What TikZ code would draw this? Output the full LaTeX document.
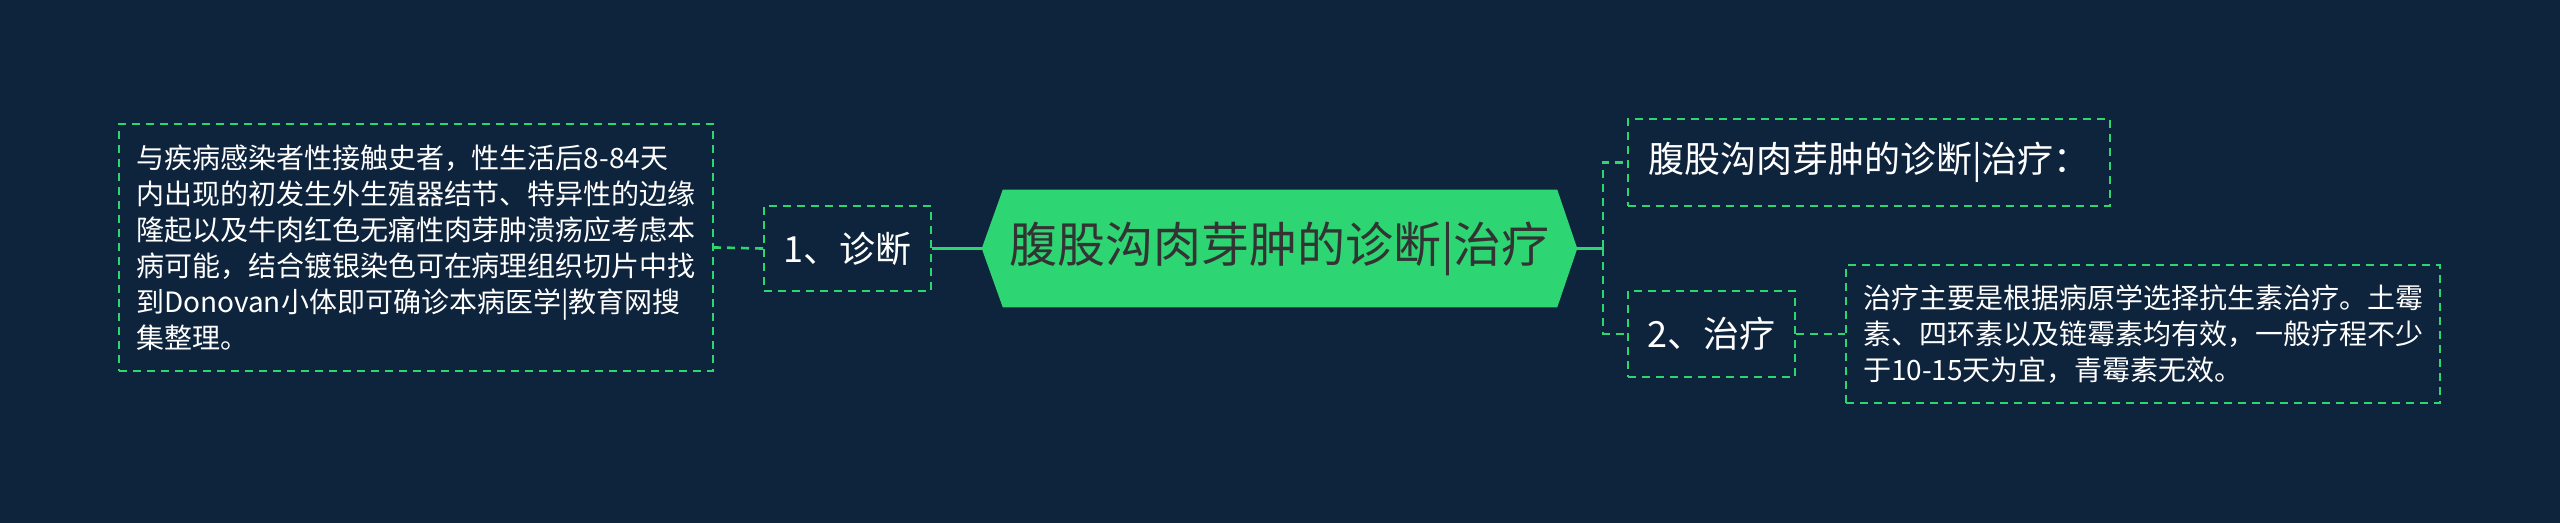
\documentclass[tikz,border=0pt]{standalone}
\usepackage{fontspec}
\setmainfont{Noto Sans CJK SC}
\usetikzlibrary{calc}
\definecolor{bg}{HTML}{0E233C}
\definecolor{gr}{HTML}{2ED573}
\definecolor{ctext}{HTML}{333333}
\pgfdeclarelayer{background}
\pgfsetlayers{background,main}
\begin{document}
\begin{tikzpicture}[x=0.75pt,y=-0.75pt,
  dbox/.style={draw=gr, line width=1.5pt, dash pattern=on 6pt off 4.5pt, text=white, inner sep=0pt, align=left},
  smallfont/.style={font=\fontsize{21pt}{27pt}\selectfont},
  midfont/.style={font=\fontsize{27pt}{32pt}\selectfont},
  topic/.style={minimum width=446.25pt, minimum height=87.75pt, inner sep=0pt, text=ctext, font=\fontsize{36pt}{40pt}\selectfont},
  solidlink/.style={draw=gr, line width=2.25pt},
  dashlink/.style={draw=gr, line width=2pt, dash pattern=on 6pt off 4.5pt}]
\begin{pgfonlayer}{background}
\fill[bg] (0,0) rectangle (2560,523);
\end{pgfonlayer}
\useasboundingbox (0,0) rectangle (2560,523);

% central topic
\node[topic] (c) at (1279.5,248.5) {腹股沟肉芽肿的诊断|治疗};
\begin{pgfonlayer}{background}
\fill[gr] (c.west) -- ([xshift=15.75pt]c.north west) -- ([xshift=-15pt]c.north east) -- (c.east)
  -- ([xshift=-15pt]c.south east) -- ([xshift=15.75pt]c.south west) -- cycle;
\end{pgfonlayer}

% left branch
\node[dbox, midfont, minimum width=125.25pt, minimum height=63.75pt, align=center] (d1) at (847.5,248.5) {1、诊断};
\node[dbox, smallfont, minimum width=445.5pt, minimum height=185.25pt] (d1t) at (416,247.5)
  {与疾病感染者性接触史者，性生活后8-84天\\
   内出现的初发生外生殖器结节、特异性的边缘\\
   隆起以及牛肉红色无痛性肉芽肿溃疡应考虑本\\
   病可能，结合镀银染色可在病理组织切片中找\\
   到Donovan小体即可确诊本病医学|教育网搜\\
   集整理。};

% right branch
\node[dbox, midfont, minimum width=361.5pt, minimum height=65.25pt, align=center] (tr) at (1869,162.5) {腹股沟肉芽肿的诊断|治疗：};
\node[dbox, midfont, minimum width=125.25pt, minimum height=64.5pt, align=center] (t2) at (1711.5,334) {2、治疗};
\node[dbox, smallfont, minimum width=445.5pt, minimum height=103.5pt] (t2t) at (2143,334)
  {治疗主要是根据病原学选择抗生素治疗。土霉\\
   素、四环素以及链霉素均有效，一般疗程不少\\
   于10-15天为宜，青霉素无效。};

% connectors
\coordinate (j) at (1603,248.5);
\draw[solidlink] (c.west) -- (d1.east);
\draw[dashlink] (d1.west) -- (d1t.east);
\draw[solidlink] (c.east) -- (j);
\draw[dashlink] (j) |- (tr.west);
\draw[dashlink] (j) |- (t2.west);
\draw[dashlink] (t2.east) -- (t2t.west);
\end{tikzpicture}
\end{document}
